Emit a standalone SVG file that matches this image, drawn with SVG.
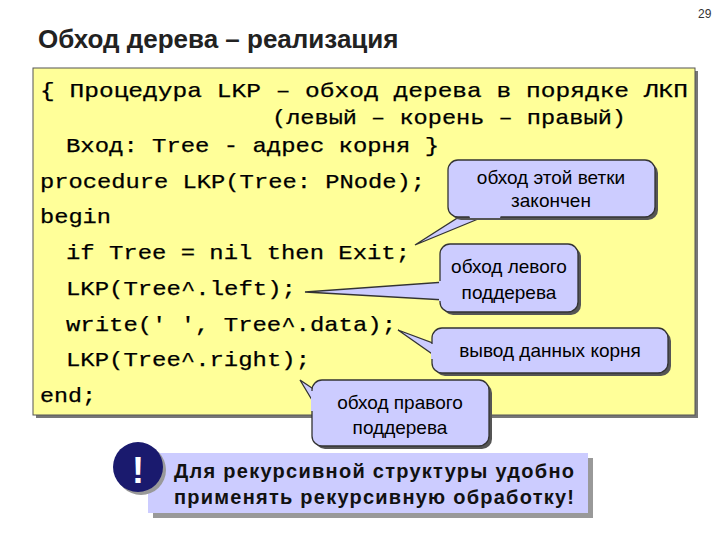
<svg xmlns="http://www.w3.org/2000/svg" width="720" height="540" viewBox="0 0 720 540">
<style>
.code{font-family:'Liberation Mono','Courier New',Courier,monospace;font-size:21px;fill:#000;stroke:#000;stroke-width:0.25}
.co{fill:#ccccff;stroke:#333;stroke-width:1.3}
.cf{fill:#ccccff}
.sh{fill:#555}
.ct{font-family:'Liberation Sans',Arial,sans-serif;font-size:19px;fill:#000;text-anchor:middle}
</style>
<rect width="720" height="540" fill="#fff"/>
<text x="698" y="18" font-family="Liberation Sans,sans-serif" font-size="12" fill="#333">29</text>
<text x="38" y="48" font-family="Liberation Sans,sans-serif" font-size="26" font-weight="bold" fill="#222">Обход дерева – реализация</text>
<rect x="36" y="71" width="662" height="347" fill="#777"/>
<rect x="33" y="68" width="662" height="347" fill="#ffff99" stroke="#555" stroke-width="1"/>
<g id="code">
<text class="code" x="40" y="97" textLength="648" lengthAdjust="spacingAndGlyphs">{ Процедура LKP – обход дерева в порядке ЛКП</text>
<text class="code" x="272" y="124" textLength="354" lengthAdjust="spacingAndGlyphs">(левый – корень – правый)</text>
<text class="code" x="66" y="152" textLength="373" lengthAdjust="spacingAndGlyphs">Вход: Tree - адрес корня }</text>
<text class="code" x="40" y="188" textLength="385" lengthAdjust="spacingAndGlyphs">procedure LKP(Tree: PNode);</text>
<text class="code" x="40" y="223" textLength="71" lengthAdjust="spacingAndGlyphs">begin</text>
<text class="code" x="66" y="259" textLength="344" lengthAdjust="spacingAndGlyphs">if Tree = nil then Exit;</text>
<text class="code" x="66" y="295" textLength="230" lengthAdjust="spacingAndGlyphs">LKP(Tree^.left);</text>
<text class="code" x="66" y="331" textLength="330" lengthAdjust="spacingAndGlyphs">write(' ', Tree^.data);</text>
<text class="code" x="66" y="366" textLength="244" lengthAdjust="spacingAndGlyphs">LKP(Tree^.right);</text>
<text class="code" x="40" y="402" textLength="56" lengthAdjust="spacingAndGlyphs">end;</text>
</g>
<g id="connectors">
<polygon class="co" points="470,210 500,210 415,245"/>
<polygon class="co" points="445,282 445,300 305,292"/>
<polygon class="co" points="438,345 438,358 398,330"/>
<polygon class="co" points="318,392 318,410 300,380"/>
</g>
<g id="c1">
<rect class="sh" x="451" y="163" width="207" height="57" rx="10"/>
<rect class="co" x="448" y="160" width="207" height="57" rx="10"/>
<polygon class="cf" points="468,212 502,212 500,218 470,218"/>
<text class="ct" x="551" y="184">обход этой ветки</text>
<text class="ct" x="551" y="207">закончен</text>
</g>
<g id="c2">
<rect class="sh" x="443" y="247" width="138" height="68" rx="10"/>
<rect class="co" x="440" y="244" width="138" height="68" rx="10"/>
<polygon class="cf" points="439,281 446,281 446,301 439,301"/>
<text class="ct" x="509" y="273">обход левого</text>
<text class="ct" x="509" y="299">поддерева</text>
</g>
<g id="c3">
<rect class="sh" x="435" y="331" width="236" height="45" rx="10"/>
<rect class="co" x="432" y="328" width="236" height="45" rx="10"/>
<polygon class="cf" points="431,344 439,344 439,359 431,359"/>
<text class="ct" x="550" y="357">вывод данных корня</text>
</g>
<g id="c4">
<rect class="sh" x="315" y="383" width="177" height="66" rx="10"/>
<rect class="co" x="312" y="380" width="177" height="66" rx="10"/>
<polygon class="cf" points="311,391 319,391 319,411 311,411"/>
<text class="ct" x="400" y="409">обход правого</text>
<text class="ct" x="400" y="434">поддерева</text>
</g>
<g id="note">
<rect x="153" y="458" width="440" height="60" fill="#999"/>
<rect x="148" y="453" width="440" height="60" fill="#ccccff"/>
<circle cx="141" cy="470" r="25" fill="#999"/>
<circle cx="138" cy="467" r="25" fill="#1a1a6e"/>
<text x="138" y="483" font-family="Liberation Sans,sans-serif" font-size="36" font-weight="bold" fill="#fff" text-anchor="middle">!</text>
<text x="174" y="478" font-family="Liberation Sans,sans-serif" font-size="20" font-weight="bold" fill="#111" textLength="400">Для рекурсивной структуры удобно</text>
<text x="174" y="504" font-family="Liberation Sans,sans-serif" font-size="20" font-weight="bold" fill="#111" textLength="400">применять рекурсивную обработку!</text>
</g>
</svg>
